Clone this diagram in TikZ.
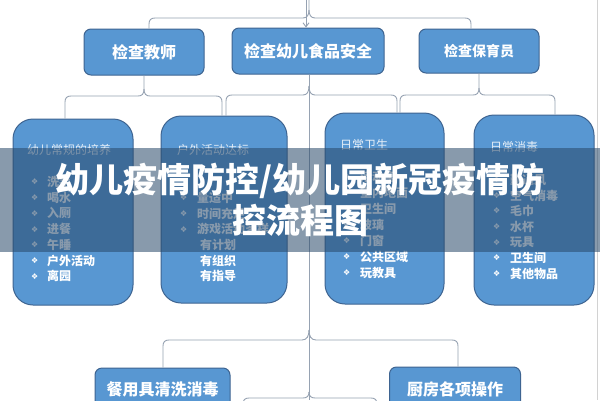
\documentclass[tikz,border=0pt]{standalone}
\usepackage{fontspec}
\newfontfamily\cjk{Noto Sans CJK SC}
\newfontfamily\dv{DejaVu Sans}
\usetikzlibrary{arrows.meta}
\definecolor{boxfill}{RGB}{88,151,210}
\definecolor{boxline}{RGB}{62,100,145}
\definecolor{conncol}{RGB}{150,162,178}
\definecolor{bandcol}{RGB}{40,72,105}
\begin{document}
\begin{tikzpicture}[x=1pt,y=-1pt,
  boxbase/.style={draw=boxline, line width=1pt, fill=boxfill, inner sep=0pt, text=white},
  topbox/.style={boxbase, rounded corners=7pt, font=\cjk\bfseries\fontsize{16}{18}\selectfont},
  tallbox/.style={boxbase, rounded corners=20pt},
  conn/.style={draw=conncol, line width=0.9pt},
  ttl/.style={anchor=west, inner sep=0pt, text=white!85!boxfill, font=\cjk\fontsize{12}{14}\selectfont},
  itm/.style={anchor=west, inner sep=0pt, text=white, font=\cjk\bfseries\fontsize{12}{14}\selectfont},
  bul/.style={anchor=west, inner sep=0pt, text=white, font=\dv\fontsize{8}{10}\selectfont},
  bigttl/.style={inner sep=0pt, text=white, font=\cjk\bfseries\fontsize{34}{37}\selectfont}]
\fill[white] (0,0) rectangle (600,400);
\useasboundingbox (0,0) rectangle (600,400);
\draw[gray!35, line width=0.8pt] (597,0) -- (597,400);

% top row
\node[topbox, minimum width=120pt, minimum height=46pt] (t1) at (144,52) {检查教师};
\node[topbox, minimum width=152pt, minimum height=46pt] (t2) at (308,51) {检查幼儿食品安全};
\node[topbox, minimum width=120pt, minimum height=44pt, font=\cjk\bfseries\fontsize{14}{16}\selectfont] (t3) at (479,51) {检查保育员};

% tall boxes
\node[tallbox, minimum width=120pt, minimum height=186pt] (c1) at (73,212) {};
\node[tallbox, minimum width=126pt, minimum height=187pt] (c2) at (224,209.5) {};
\node[tallbox, minimum width=119pt, minimum height=191pt] (c3) at (384.5,208.5) {};
\node[tallbox, minimum width=120pt, minimum height=190pt] (c4) at (534,210) {};

% bottom boxes
\node[boxbase, rounded corners=7pt, minimum width=135pt, minimum height=50pt] (b1) at (162.5,393) {};
\node[boxbase, rounded corners=7pt, minimum width=131pt, minimum height=50pt] (b2) at (455,392) {};
\node[inner sep=0pt, text=white, font=\cjk\bfseries\fontsize{16}{18}\selectfont] (b1t) at (162.5,389) {餐用具清洗消毒};
\node[inner sep=0pt, text=white, font=\cjk\bfseries\fontsize{16}{18}\selectfont] (b2t) at (455,389) {厨房各项操作};

% box 1 text
\node[ttl] (c1h) at (27,150) {幼儿常规的培养};
\foreach \i/\t/\y in {1/洗手/182, 2/喝水/197.7, 3/入厕/213.4, 4/进餐/229.1, 5/午睡/244.8, 6/户外活动/260.5, 7/离园/276.2}{
  \node[bul] (c1b\i) at (31,\y) {❖};
  \node[itm] (c1i\i) at (47,\y) {\t};
}
% box 2 text
\node[ttl] (c2h) at (177,150) {户外活动达标};
\foreach \i/\t/\y in {2/量适中/197.7, 3/时间充足/213.4, 4/游戏活动多样/229.1}{
  \node[bul] (c2b\i) at (180,\y) {❖};
  \node[itm] (c2i\i) at (197,\y) {\t};
}
\node[itm] (c2i5) at (200,244.8) {有计划};
\node[itm] (c2i6) at (200,260.5) {有组织};
\node[itm] (c2i7) at (200,276.2) {有指导};
% box 3 text
\node[ttl] (c3h) at (340,145) {日常卫生};
\foreach \i/\t/\y in {1/活动室/177, 2/室内地面/193, 3/卫生间/209, 4/玻璃/225, 5/门窗/241, 6/公共区域/257, 7/玩教具/272.5}{
  \node[bul] (c3b\i) at (343,\y) {❖};
  \node[itm] (c3i\i) at (360,\y) {\t};
}
% box 4 text
\node[ttl] (c4h) at (490,147) {日常消毒};
\foreach \i/\t/\y in {1/勤通风/180, 2/空气消毒/195.5, 3/毛巾/211, 4/水杯/227, 5/玩具/242.5, 6/卫生间/258, 7/其他物品/273.5}{
  \node[bul] (c4b\i) at (493,\y) {❖};
  \node[itm] (c4i\i) at (510,\y) {\t};
}

% connectors
\coordinate (topend) at (309,0);
\coordinate (arrtop) at (306,0);
\coordinate (tipT) at (309,10);
\coordinate (tipC) at (309,86);
\coordinate (tipL) at (144,89);
\coordinate (tipR) at (479,88);
\coordinate (tipB) at (309,330);
\coordinate (spinebot) at (309,400);
\coordinate (tipX) at (309,392);

\draw[conn] (topend) -- (tipT) .. controls (309,15) and (307,18) .. (303,18) -- (155,18)
  .. controls (151,18) and (149,20) .. (149,24) -- ([xshift=5pt]t1.north);
\draw[conn] (tipT) .. controls (309,15) and (311,18) .. (315,18) -- (465,18)
  .. controls (469,18) and (471,20) .. (471,24) -- ([xshift=-8pt]t3.north);
\draw[conn, -{Straight Barb[length=4pt,width=6pt]}] (arrtop) -- ([xshift=-2pt]t2.north);

\draw[conn] ([xshift=1pt]t2.south) -- (spinebot);

\draw[conn] (t1.south) -- (tipL) .. controls (144,94) and (142,96) .. (138,96) -- (71,96)
  .. controls (67,96) and (65,98) .. (65,102) -- ([xshift=-8pt]c1.north);
\draw[conn] (tipL) .. controls (144,94) and (146,96) .. (150,96) -- (216,96)
  .. controls (220,96) and (222,98) .. (222,102) -- ([xshift=-2pt]c2.north);

\draw[conn] (tipC) .. controls (309,92) and (307,95) .. (303,95) -- (232,95)
  .. controls (228,95) and (226,97) .. (226,101) -- ([xshift=2pt]c2.north);
\draw[conn] (tipC) .. controls (309,92) and (311,95) .. (315,95) -- (391,95)
  .. controls (395,95) and (397,97) .. (397,101) -- ([xshift=12.5pt]c3.north);

\draw[conn] (t3.south) -- (tipR) .. controls (479,93) and (477,95) .. (473,95) -- (406,95)
  .. controls (402,95) and (400,97) .. (400,101) -- ([xshift=15.5pt]c3.north);
\draw[conn] (tipR) .. controls (479,93) and (481,95) .. (485,95) -- (549,95)
  .. controls (553,95) and (555,97) .. (555,101) -- ([xshift=21pt]c4.north);

\draw[conn] (tipB) .. controls (309,336) and (307,340) .. (302,340) -- (169,340)
  .. controls (165,340) and (163,342) .. (163,346) -- ([xshift=0.5pt]b1.north);
\draw[conn] (tipB) .. controls (309,336) and (311,340) .. (316,340) -- (452,340)
  .. controls (456,340) and (458,342) .. (458,346) -- ([xshift=3pt]b2.north);

\draw[conn] (tipX) .. controls (309,396) and (307,398) .. (303,398) -- (249,398)
  .. controls (245,398) and (243,400) .. (243,404);
\draw[conn] (tipX) .. controls (309,396) and (311,398) .. (315,398) -- (371,398)
  .. controls (375,398) and (377,400) .. (377,404);

% banner overlay
\fill[bandcol, fill opacity=0.55] (0,148) rectangle (600,252);
\node[bigttl] (title1) at (300,181) {幼儿疫情防控/幼儿园新冠疫情防};
\node[bigttl] (title2) at (300,220) {控流程图};
\end{tikzpicture}
\end{document}
